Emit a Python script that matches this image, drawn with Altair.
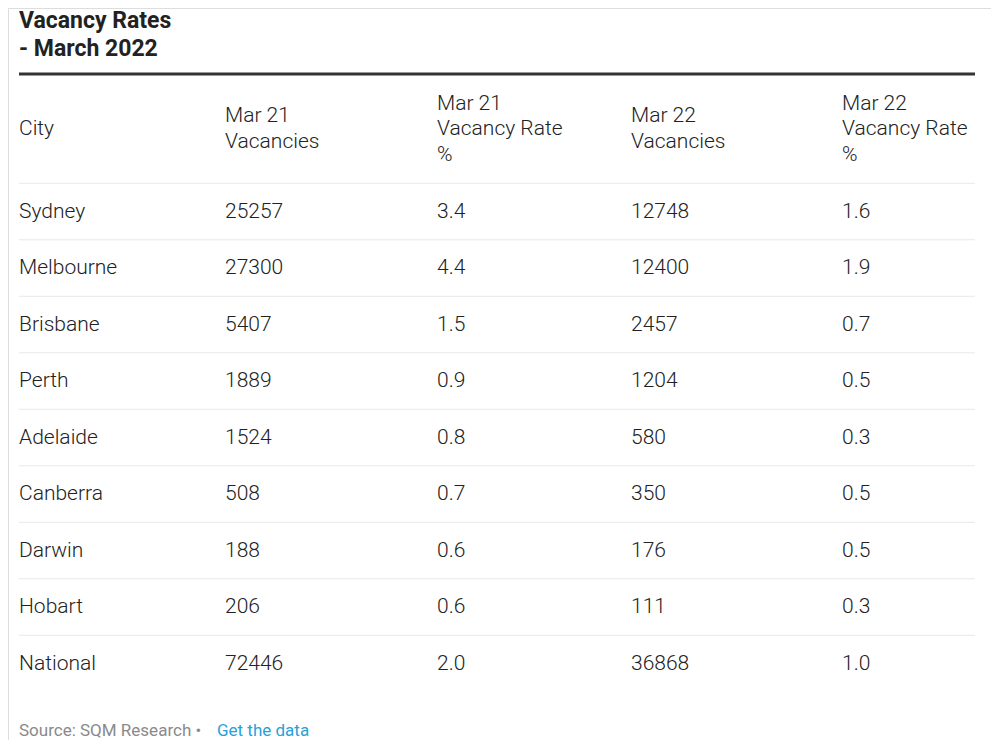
import altair as alt
import pandas as pd

# ---- data ----
cities = ["Sydney", "Melbourne", "Brisbane", "Perth", "Adelaide", "Canberra", "Darwin", "Hobart", "National"]
mar21_vacancies = [25257, 27300, 5407, 1889, 1524, 508, 188, 206, 72446]
mar21_rate = [3.4, 4.4, 1.5, 0.9, 0.8, 0.7, 0.6, 0.6, 2.0]
mar22_vacancies = [12748, 12400, 2457, 1204, 580, 350, 176, 111, 36868]
mar22_rate = [1.6, 1.9, 0.7, 0.5, 0.3, 0.5, 0.5, 0.3, 1.0]
headers = [["City"], ["Mar 21", "Vacancies"], ["Mar 21", "Vacancy Rate", "%"],
           ["Mar 22", "Vacancies"], ["Mar 22", "Vacancy Rate", "%"]]
title_text = "Vacancy Rates\n- March 2022"
source_text = "Source: SQM Research •"
link_text = "Get the data"

# ---- layout / style ----
W, H = 983, 732
FONT = "Roboto"
FS = 21
FW = 300
TEXT_COLOR = "#222222"
col_range = [11, 217, 429, 623, 834]
n = len(cities)
row_top, row_step = 203.5, 56.5
head_center, head_lh = 121, 25.5

cells = []
for i in range(n):
    vals = [cities[i], str(mar21_vacancies[i]), f"{mar21_rate[i]:.1f}",
            str(mar22_vacancies[i]), f"{mar22_rate[i]:.1f}"]
    for c, v in enumerate(vals):
        cells.append({"row": i, "col": c, "text": v})
cells_df = pd.DataFrame(cells)

hrows = []
for c, lines in enumerate(headers):
    for k, t in enumerate(lines):
        hrows.append({"col": c, "off": k - (len(lines) - 1) / 2, "text": t})
header_df = pd.DataFrame(hrows)
sep_df = pd.DataFrame({"row": [i - 0.5 for i in range(n)]})

xscale = alt.Scale(domain=list(range(5)), range=col_range, type="linear", zero=False, nice=False)
yscale = alt.Scale(domain=[0, n - 1], range=[row_top, row_top + row_step * (n - 1)], zero=False, nice=False)
hscale = alt.Scale(domain=[-1, 1], range=[head_center - head_lh, head_center + head_lh], zero=False, nice=False)

body = alt.Chart(cells_df).mark_text(align="left", baseline="middle", font=FONT, fontSize=FS,
                                     fontWeight=FW, color=TEXT_COLOR).encode(
    x=alt.X("col:Q", scale=xscale, axis=None),
    y=alt.Y("row:Q", scale=yscale, axis=None),
    text="text:N",
)

seps = alt.Chart(sep_df).mark_rule(color="#e8e8e8", strokeWidth=1).encode(
    y=alt.Y("row:Q", scale=yscale, axis=None),
    x=alt.value(col_range[0]),
    x2=alt.value(967),
)

head = alt.Chart(header_df).mark_text(align="left", baseline="middle", font=FONT, fontSize=FS,
                                      fontWeight=FW, color=TEXT_COLOR).encode(
    x=alt.X("col:Q", scale=xscale, axis=None),
    y=alt.Y("off:Q", scale=hscale, axis=None),
    text="text:N",
)

thick = alt.Chart(pd.DataFrame({"a": [0]})).mark_rule(color="#333333", strokeWidth=3).encode(
    x=alt.value(col_range[0]), x2=alt.value(967), y=alt.value(66),
)

title = alt.Chart(pd.DataFrame({"t": [title_text]})).mark_text(
    align="left", baseline="middle", font=FONT, fontSize=23, fontWeight="bold",
    color="#222222", lineBreak="\n", lineHeight=28).encode(
    x=alt.value(col_range[0]), y=alt.value(12.5), text="t:N")

source = alt.Chart(pd.DataFrame({"t": [source_text]})).mark_text(
    align="left", baseline="middle", font=FONT, fontSize=17, color="#8a8a8a").encode(
    x=alt.value(col_range[0]), y=alt.value(722.5), text="t:N")

link = alt.Chart(pd.DataFrame({"t": [link_text]})).mark_text(
    align="left", baseline="middle", font=FONT, fontSize=17, color="#2a9fd8").encode(
    x=alt.value(209), y=alt.value(722.5), text="t:N")

chart = alt.layer(seps, thick, title, head, body, source, link).resolve_scale(
    y="independent"
).properties(
    width=W, height=H, autosize=alt.AutoSizeParams(type="none"), padding=0
).configure_view(strokeWidth=0, stroke="transparent").configure(background="white")

chart.save("out.html", embed_options={"renderer": "svg", "actions": False})
